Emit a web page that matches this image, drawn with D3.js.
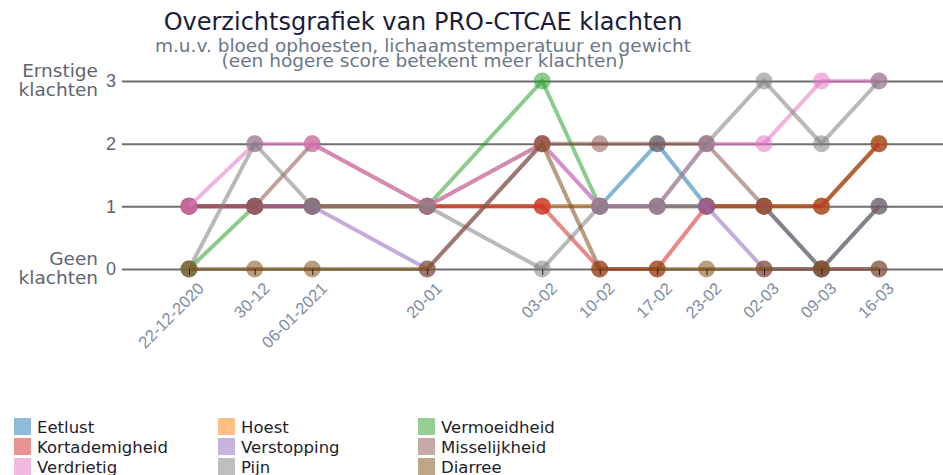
<!DOCTYPE html>
<html>
<head>
<meta charset="utf-8">
<script src="https://cdn.jsdelivr.net/npm/d3@7"></script>
<style>
  body { margin: 0; background: #fff; }
  svg { font-family: "DejaVu Sans", Verdana, sans-serif; display: block; }
  .grid line { stroke: #6e6e6e; stroke-width: 2; }
  .grid text { fill: #5f6470; font-size: 18px; }
  .xaxis text { fill: #7d8ca3; font-size: 16.5px; }
  .xaxis line { stroke: #222; }
</style>
</head>
<body>
<div id="chart"></div>
<script>
// dates of the questionnaires
const dates = ["2020-12-22", "2020-12-30", "2021-01-06", "2021-01-20", "2021-02-03", "2021-02-10",
               "2021-02-17", "2021-02-23", "2021-03-02", "2021-03-09", "2021-03-16"];
const tickLabels = ["22-12-2020", "30-12", "06-01-2021", "20-01", "03-02", "10-02",
                    "17-02", "23-02", "02-03", "09-03", "16-03"];

const categories = ["Eetlust", "Hoest", "Vermoeidheid", "Kortademigheid", "Verstopping",
                    "Misselijkheid", "Verdrietig", "Pijn", "Diarree"];
const colors = ["#1f77b4", "#ff7f0e", "#2ca02c", "#d62728", "#9467bd",
                "#8c564b", "#e377c2", "#7f7f7f", "#7d4e14"];

// scores per category (0 = geen, 3 = ernstig)
const eetlust        = [1, 1, 1, 1, 1, 1, 2, 1, 1, 0, 1];
const hoest          = [1, 1, 1, 1, 1, 1, 1, 1, 1, 1, 2];
const vermoeidheid   = [0, 1, 1, 1, 3, 1, 1, 1, 1, 1, 2];
const kortademigheid = [1, 1, 1, 1, 1, 0, 0, 1, 1, 1, 2];
const verstopping    = [1, 1, 1, 0, 2, 1, 1, 1, 0, 0, 0];
const misselijkheid  = [1, 1, 2, 1, 2, 2, 2, 2, 1, 0, 1];
const verdrietig     = [1, 2, 2, 1, 2, 1, 1, 2, 2, 3, 3];
const pijn           = [0, 2, 1, 1, 0, 1, 1, 2, 3, 2, 3];
const diarree        = [0, 0, 0, 0, 2, 0, 0, 0, 0, 0, 0];

const scores = [eetlust, hoest, vermoeidheid, kortademigheid, verstopping,
                misselijkheid, verdrietig, pijn, diarree];

const width = 943, height = 475;
const parse = d3.timeParse("%Y-%m-%d");

const series = categories.map((name, i) => ({
    name: name,
    color: colors[i],
    values: scores[i].map((v, j) => ({date: parse(dates[j]), value: v}))
}));

const svg = d3.select("#chart").append("svg")
    .attr("width", width)
    .attr("height", height);

const x = d3.scaleTime()
    .domain([parse(dates[0]), parse(dates[dates.length - 1])])
    .range([189, 879]);
const y = d3.scaleLinear()
    .domain([0, 3])
    .range([269, 81]);

// title
svg.append("text")
    .attr("x", 423).attr("y", 30)
    .attr("text-anchor", "middle")
    .attr("font-size", 24)
    .attr("fill", "#1b1d3a")
    .text("Overzichtsgrafiek van PRO-CTCAE klachten");
svg.append("text")
    .attr("x", 423).attr("y", 52)
    .attr("text-anchor", "middle")
    .attr("font-size", 18.5)
    .attr("fill", "#6b7689")
    .text("m.u.v. bloed ophoesten, lichaamstemperatuur en gewicht");
svg.append("text")
    .attr("x", 423).attr("y", 67)
    .attr("text-anchor", "middle")
    .attr("font-size", 18.5)
    .attr("fill", "#6b7689")
    .text("(een hogere score betekent meer klachten)");

// gridlines + y ticks
svg.append("g")
    .attr("class", "grid")
    .attr("transform", "translate(122,0)")
    .call(d3.axisLeft(y).tickValues([0, 1, 2, 3]).tickFormat(d3.format("d"))
        .tickSize(-(width - 122)).tickPadding(6))
    .call(g => g.select(".domain").remove());

// y end labels
const yLabels = [["Ernstige", "klachten", 3], ["Geen", "klachten", 0]];
yLabels.forEach(l => {
    let t = svg.append("text")
        .attr("text-anchor", "end")
        .attr("font-size", 18.5)
        .attr("fill", "#5f6470")
        .attr("x", 98)
        .attr("y", y(l[2]) - 4);
    t.append("tspan").attr("x", 98).text(l[0]);
    t.append("tspan").attr("x", 98).attr("dy", 19).text(l[1]);
});

// lines and points
const line = d3.line()
    .x(d => x(d.date))
    .y(d => y(d.value));

const groups = svg.selectAll(".serie")
    .data(series).enter()
    .append("g")
    .attr("class", "serie");

groups.append("path")
    .attr("d", d => line(d.values))
    .attr("fill", "none")
    .attr("stroke", d => d.color)
    .attr("stroke-width", 4)
    .attr("stroke-opacity", 0.55);

groups.selectAll("circle")
    .data(d => d.values.map(v => ({...v, color: d.color})))
    .enter().append("circle")
    .attr("cx", d => x(d.date))
    .attr("cy", d => y(d.value))
    .attr("r", 8.5)
    .attr("fill", d => d.color)
    .attr("fill-opacity", 0.55);

// x axis (ticks on top of the points)
const xAxis = svg.append("g")
    .attr("class", "xaxis")
    .attr("transform", "translate(0," + y(0) + ")")
    .call(d3.axisBottom(x).tickValues(dates.map(parse))
        .tickFormat((d, i) => tickLabels[i]).tickSize(6))
    .call(g => g.select(".domain").remove());

xAxis.selectAll("text")
    .attr("text-anchor", "end")
    .attr("dy", "0.35em")
    .attr("transform", "translate(5,10) rotate(-45)");

// legend
const legend = svg.selectAll(".legend")
    .data(series).enter()
    .append("g")
    .attr("class", "legend")
    .attr("transform", (d, i) => "translate(" + [14, 218, 418][i % 3] + "," + (418 + Math.floor(i / 3) * 20) + ")");

legend.append("rect")
    .attr("width", 17)
    .attr("height", 17)
    .attr("fill", d => d.color)
    .attr("fill-opacity", 0.5);

legend.append("text")
    .attr("x", 23)
    .attr("y", 15)
    .attr("font-size", 16.5)
    .attr("fill", "#1d1d2b")
    .text(d => d.name);
</script>
</body>
</html>
